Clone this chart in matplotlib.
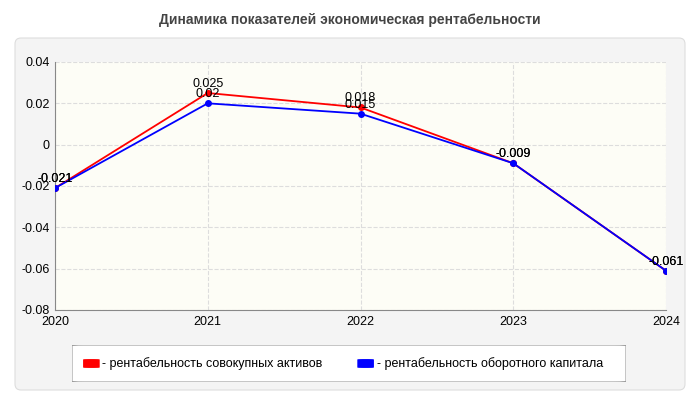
import matplotlib

matplotlib.use("Agg")

import matplotlib.pyplot as plt  # noqa: E402
from matplotlib.patches import FancyBboxPatch  # noqa: E402

plt.rcParams["font.family"] = "Liberation Sans"

years = ["2020", "2021", "2022", "2023", "2024"]
assets = [-0.021, 0.025, 0.018, -0.009, -0.061]
working = [-0.021, 0.02, 0.015, -0.009, -0.061]
assets_labels = ["-0.021", "0.025", "0.018", "-0.009", "-0.061"]
working_labels = ["-0.021", "0.02", "0.015", "-0.009", "-0.061"]
yticks = [0.04, 0.02, 0, -0.02, -0.04, -0.06, -0.08]
ytick_labels = ["0.04", "0.02", "0", "-0.02", "-0.04", "-0.06", "-0.08"]

fig = plt.figure(figsize=(7, 4), dpi=100)
fig.patch.set_facecolor("white")

# background panel in its own axes so it stays behind the chart
bg = fig.add_axes([0, 0, 1, 1])
bg.set_xlim(0, 700)
bg.set_ylim(0, 400)
bg.axis("off")
bg.add_patch(FancyBboxPatch((15, 10), 670, 352, boxstyle="round,pad=0,rounding_size=6",
                            facecolor="#f4f4f4", edgecolor="#dddddd", linewidth=0.8))
bg.text(350, 380, "Динамика показателей экономическая рентабельности",
        ha="center", va="center", fontsize=10, fontweight="bold", color="#444444")

ax = fig.add_axes([55 / 700, 90 / 400, 611 / 700, 248 / 400])
ax.set_facecolor("#fdfdf6")
x = range(len(years))
ax.plot(x, assets, "-o", color="red", linewidth=1.3, markersize=4, zorder=3)
ax.plot(x, working, "-o", color="blue", linewidth=1.3, markersize=4, zorder=4)
for i in x:
    ax.text(i, assets[i] + 0.0015, assets_labels[i], ha="center", va="bottom", fontsize=9, zorder=5)
    ax.text(i, working[i] + 0.0015, working_labels[i], ha="center", va="bottom", fontsize=9, zorder=5)
ax.set_xlim(0, 4)
ax.set_ylim(-0.08, 0.04)
ax.set_xticks(list(x))
ax.set_xticklabels(years)
ax.set_yticks(yticks)
ax.set_yticklabels(ytick_labels)
ax.tick_params(labelsize=9, length=0, pad=4)
ax.grid(True, color="#dddddd", linestyle="--", linewidth=0.8)
for s in ["top", "right"]:
    ax.spines[s].set_visible(False)
for s in ["left", "bottom"]:
    ax.spines[s].set_color("#888888")

lax = fig.add_axes([72 / 700, 18 / 400, 554 / 700, 37 / 400])
lax.set_xlim(0, 1)
lax.set_ylim(0, 1)
lax.axis("off")
lax.add_patch(FancyBboxPatch((0, 0), 1, 1, boxstyle="round,pad=0,rounding_size=0.02",
                             facecolor="white", edgecolor="#999999", linewidth=0.8))
lax.add_patch(FancyBboxPatch((0.02, 0.38), 0.03, 0.24, boxstyle="round,pad=0,rounding_size=0.01",
                             facecolor="red", edgecolor="none"))
lax.text(0.055, 0.5, "- рентабельность совокупных активов", va="center", fontsize=9)
lax.add_patch(FancyBboxPatch((0.515, 0.38), 0.03, 0.24, boxstyle="round,pad=0,rounding_size=0.01",
                             facecolor="blue", edgecolor="none"))
lax.text(0.55, 0.5, "- рентабельность оборотного капитала", va="center", fontsize=9)

fig.savefig("out.png", dpi=100)
